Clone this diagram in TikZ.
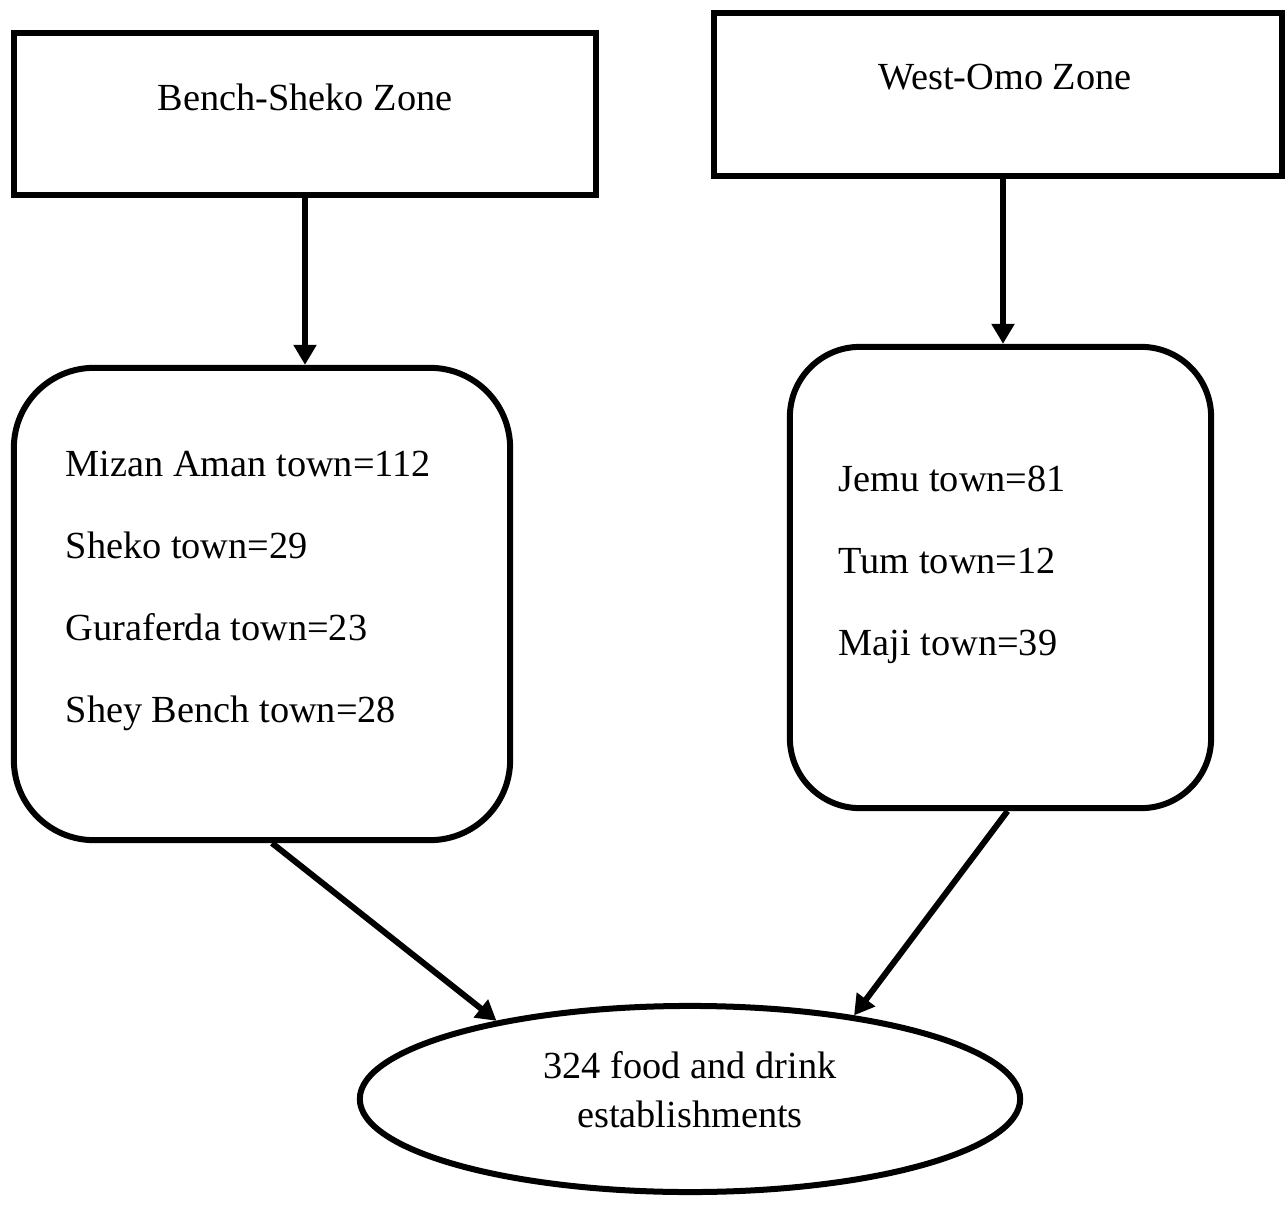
\documentclass[tikz,border=0pt]{standalone}
\usepackage{fontspec}
\setmainfont{Liberation Serif}
\usetikzlibrary{positioning, arrows.meta, calc, shapes.geometric}
\tikzset{
    zonebox/.style={
        rectangle,
        draw=black,
        line width=0.06cm,
        inner sep=0pt
    },
    townbox/.style={
        rectangle,
        draw=black,
        line width=0.06cm,
        inner sep=0pt
    },
    townlist/.style={
        align=left,
        inner sep=0pt,
        font=\fontsize{10.9}{23.4}\selectfont
    },
    zonetext/.style={
        inner sep=0pt,
        font=\fontsize{10.9}{13}\selectfont
    },
    resultnode/.style={
        ellipse,
        draw=black,
        line width=0.06cm,
        inner sep=0pt
    },
    resulttext/.style={
        align=center,
        inner sep=0pt,
        font=\fontsize{10.9}{14}\selectfont
    },
    flowarrow/.style={
        line width=0.06cm,
        -{Triangle[length=0.2cm,width=0.22cm]}
    }
}
\begin{document}
\begin{tikzpicture}[x=0.01cm,y=-0.01cm]
      \useasboundingbox (0,0) rectangle (1285,1222);

      % zones
      \node[zonebox, minimum width=5.82cm, minimum height=1.62cm] (bszone) at (305,114) {};
      \node[zonetext] (bsname) at (305,97) {Bench-Sheko Zone};
      \node[zonebox, minimum width=5.68cm, minimum height=1.63cm] (wozone) at (998,94.5) {};
      \node[zonetext] (woname) at (1005,77) {West-Omo Zone};

      % towns
      \node[townbox, rounded corners=0.8cm, minimum width=4.96cm, minimum height=4.72cm] (bsbox) at (262,604) {};
      \node[townlist, anchor=west] (bstowns) at (65,591) {Mizan Aman town=112\\Sheko town=29\\Guraferda town=23\\Shey Bench town=28};
      \node[townbox, rounded corners=0.7cm, minimum width=4.21cm, minimum height=4.61cm] (wobox) at (1000.5,577.5) {};
      \node[townlist, anchor=west] (wotowns) at (838,565) {Jemu town=81\\Tum town=12\\Maji town=39};

      % total
      \node[resultnode, minimum width=6.6cm, minimum height=1.86cm] (est) at (690,1099) {};
      \node[resulttext] (esttext) at (690,1090) {324 food and drink\\establishments};

      \draw[flowarrow] (bszone.south) -- (bszone.south |- bsbox.north);
      \draw[flowarrow] ([xshift=0.05cm]wozone.south) -- ([xshift=0.05cm]wozone.south |- wobox.north);
      \draw[flowarrow] ([xshift=0.1cm]bsbox.south) -- (est.158);
      \draw[flowarrow] ([xshift=0.07cm]wobox.south) -- (est.27);

\end{tikzpicture}
\end{document}
